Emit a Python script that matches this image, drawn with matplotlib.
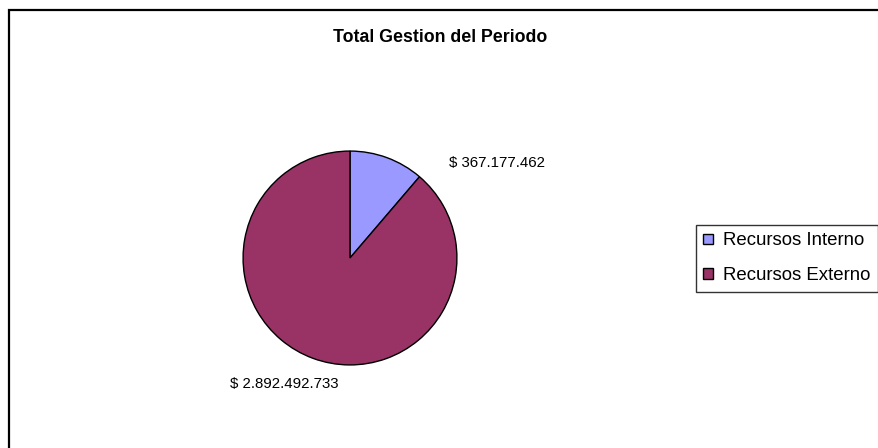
import matplotlib.pyplot as plt
from matplotlib.patches import Rectangle

plt.rcParams['font.family'] = ['Liberation Sans', 'DejaVu Sans']

categorias = ['Recursos Interno', 'Recursos Externo']
valores = [367177462, 2892492733]
etiquetas = ['$ 367.177.462', '$ 2.892.492.733']
colores = ['#9999FF', '#993366']

W, H = 879, 448
fig = plt.figure(figsize=(W / 100, H / 100), dpi=100)

# marco exterior (cortado a la derecha y abajo)
fig.add_artist(Rectangle((9 / W, -0.05), 1.0, (H - 10) / H + 0.05,
                         transform=fig.transFigure, fill=False,
                         edgecolor='black', linewidth=1.6))

fig.text(440 / W, 1 - 37 / H, 'Total Gestion del Periodo', ha='center', va='center',
         fontsize=12.8, fontweight='bold')

cx, cy, r = 350, 258, 108
ax = fig.add_axes([(cx - r) / W, (H - cy - r) / H, 2 * r / W, 2 * r / H])
wedges, _ = ax.pie(valores, colors=colores, startangle=90, counterclock=False,
                   radius=1, wedgeprops=dict(edgecolor='black', linewidth=1.0))
ax.set_xlim(-1.01, 1.01)
ax.set_ylim(-1.01, 1.01)
ax.set_aspect('equal')
ax.axis('off')

# etiquetas de valores
pos = [((498 - cx) / r, (cy - 162) / r), ((284 - cx) / r, (cy - 385) / r)]
for (x, y), t in zip(pos, etiquetas):
    ax.text(x, y, t, ha='center', va='center', fontsize=10.8, clip_on=False)

leg = fig.legend(wedges, categorias, loc='upper left',
                 bbox_to_anchor=(696 / W, 1 - 225 / H), fontsize=13.4,
                 frameon=True, fancybox=False, handlelength=0.5, handleheight=0.5,
                 handletextpad=0.55, borderpad=0.4, labelspacing=0.95, borderaxespad=0)
leg.get_frame().set_edgecolor('black')
leg.get_frame().set_linewidth(1.0)

fig.savefig('out.png', dpi=100)
